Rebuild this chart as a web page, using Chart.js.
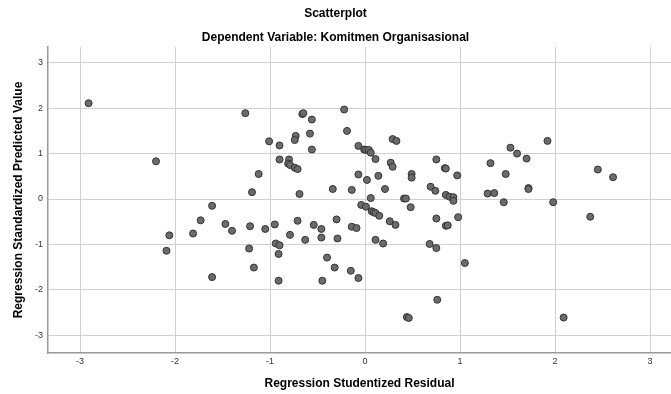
<!DOCTYPE html>
<html lang="en">
<head>
  <meta charset="UTF-8">
  <title>Scatterplot</title>
  <style>
    html, body { margin: 0; padding: 0; background: #fff; }
    #wrap { width: 671px; height: 394px; }
  </style>
</head>
<body>
  <div id="wrap"><canvas id="myChart"></canvas></div>
<script src="https://cdn.jsdelivr.net/npm/chart.js@4.4.1/dist/chart.umd.min.js"></script>
<script>
// Regression Studentized Residual
const residual = [
  -2.91, -2.20, -1.26, -1.12, -1.19, -1.01, -0.90, -0.66, -0.65, -0.56,
  -0.73, -0.74, -0.58, -0.56, -0.90, -0.80, -0.81, -0.79, -0.74, -0.71,
  -0.69, -0.34, -0.14, -0.22, -0.19, -0.07, -0.01, 0.01, 0.04, 0.06,
  0.11, -0.07, 0.02, 0.14, 0.21, 0.06, 0.29, 0.33, 0.27, 0.29,
  0.49, 0.49, 0.41, 0.43, 0.69, 0.74, 0.75, 0.84, 0.85, 0.97,
  0.85, 0.89, 0.93, 0.93, 1.32, 1.53, 1.60, 1.70, 1.92, 1.48,
  1.72, 1.72, 1.29, 1.36, 2.45, 2.61, 1.46, 1.98, 2.37, 1.05,
  2.09, -1.61, -1.73, -1.47, -1.40, -1.21, -1.81, -2.06, -2.09, -1.22,
  -1.17, -1.61, -1.05, -0.95, -0.94, -0.90, -0.91, -0.91, -0.79, -0.71,
  -0.63, -0.54, -0.46, -0.46, -0.30, -0.29, -0.40, -0.32, -0.45, -0.15,
  -0.07, -0.14, -0.09, -0.04, 0.01, 0.07, 0.09, 0.11, 0.15, 0.26,
  0.32, 0.11, 0.19, 0.48, 0.75, 0.85, 0.87, 0.98, 0.68, 0.75,
  0.76, 0.44, 0.46
];
// Regression Standardized Predicted Value
const predicted = [
  2.11, 0.83, 1.89, 0.55, 0.15, 1.27, 1.18, 1.87, 1.89, 1.75,
  1.39, 1.30, 1.44, 1.09, 0.87, 0.87, 0.78, 0.75, 0.69, 0.66,
  0.11, 0.22, 0.20, 1.97, 1.50, 1.17, 1.09, 1.08, 1.08, 1.02,
  0.88, 0.54, 0.42, 0.51, 0.22, 0.02, 1.32, 1.28, 0.80, 0.71,
  0.55, 0.47, 0.01, 0.01, 0.27, 0.18, 0.87, 0.68, 0.67, 0.52,
  0.09, 0.05, 0.04, -0.04, 0.79, 1.13, 1.00, 0.89, 1.28, 0.55,
  0.24, 0.22, 0.12, 0.13, 0.65, 0.48, -0.07, -0.07, -0.39, -1.41,
  -2.61, -0.15, -0.47, -0.55, -0.70, -0.60, -0.76, -0.80, -1.14, -1.09,
  -1.51, -1.72, -0.66, -0.56, -0.98, -1.02, -1.21, -1.80, -0.79, -0.48,
  -0.90, -0.57, -0.66, -0.85, -0.45, -0.87, -1.29, -1.51, -1.80, -1.58,
  -1.74, -0.61, -0.64, -0.13, -0.17, -0.27, -0.29, -0.31, -0.37, -0.49,
  -0.57, -0.90, -0.98, -0.18, -0.43, -0.59, -0.58, -0.40, -0.99, -1.08,
  -2.22, -2.60, -2.62
];
const tickValues = [-3, -2, -1, 0, 1, 2, 3];

const points = residual.map((x, i) => ({ x: x, y: predicted[i] }));

const font = 'Liberation Sans, Arial, sans-serif';
const ctx = document.getElementById('myChart').getContext('2d');

new Chart(ctx, {
  type: 'scatter',
  data: {
    datasets: [{
      data: points,
      backgroundColor: '#6b6b6b',
      borderColor: '#333333',
      borderWidth: 1,
      pointRadius: 3.5,
      pointHoverRadius: 3.5
    }]
  },
  options: {
    responsive: true,
    maintainAspectRatio: false,
    animation: false,
    layout: { padding: 0, autoPadding: false },
    plugins: {
      legend: { display: false },
      tooltip: { enabled: false },
      title: {
        display: true,
        text: 'Scatterplot',
        color: '#000',
        font: { family: font, size: 12, weight: 'bold' },
        padding: { top: 6, bottom: 4 }
      },
      subtitle: {
        display: true,
        text: 'Dependent Variable: Komitmen Organisasional',
        color: '#000',
        font: { family: font, size: 12, weight: 'bold' },
        padding: { top: 6, bottom: 2.2 }
      }
    },
    scales: {
      x: {
        type: 'linear',
        min: -3.337,
        max: 3.22,
        afterBuildTicks(scale) { scale.ticks = tickValues.map(v => ({ value: v })); },
        afterFit(scale) { scale.height = 41; },
        ticks: {
          color: '#333',
          font: { family: font, size: 9 },
          padding: 3,
          maxRotation: 0
        },
        grid: { color: '#d0d0d0', lineWidth: 1, drawTicks: false },
        border: { display: true, color: '#9a9a9a', width: 1.5 },
        title: {
          display: true,
          text: 'Regression Studentized Residual',
          color: '#000',
          font: { family: font, size: 12, weight: 'bold' },
          padding: { top: 0, bottom: 2.8 }
        }
      },
      y: {
        type: 'linear',
        min: -3.392,
        max: 3.348,
        afterBuildTicks(scale) { scale.ticks = tickValues.map(v => ({ value: v })); },
        afterFit(scale) { scale.width = 48; },
        ticks: {
          color: '#333',
          font: { family: font, size: 9 },
          padding: 5
        },
        grid: { color: '#d0d0d0', lineWidth: 1, drawTicks: false },
        border: { display: true, color: '#9a9a9a', width: 1.5 },
        title: {
          display: true,
          text: 'Regression Standardized Predicted Value',
          color: '#000',
          font: { family: font, size: 12, weight: 'bold' },
          padding: { top: 11, bottom: 0 }
        }
      }
    }
  }
});
</script>
</body>
</html>
